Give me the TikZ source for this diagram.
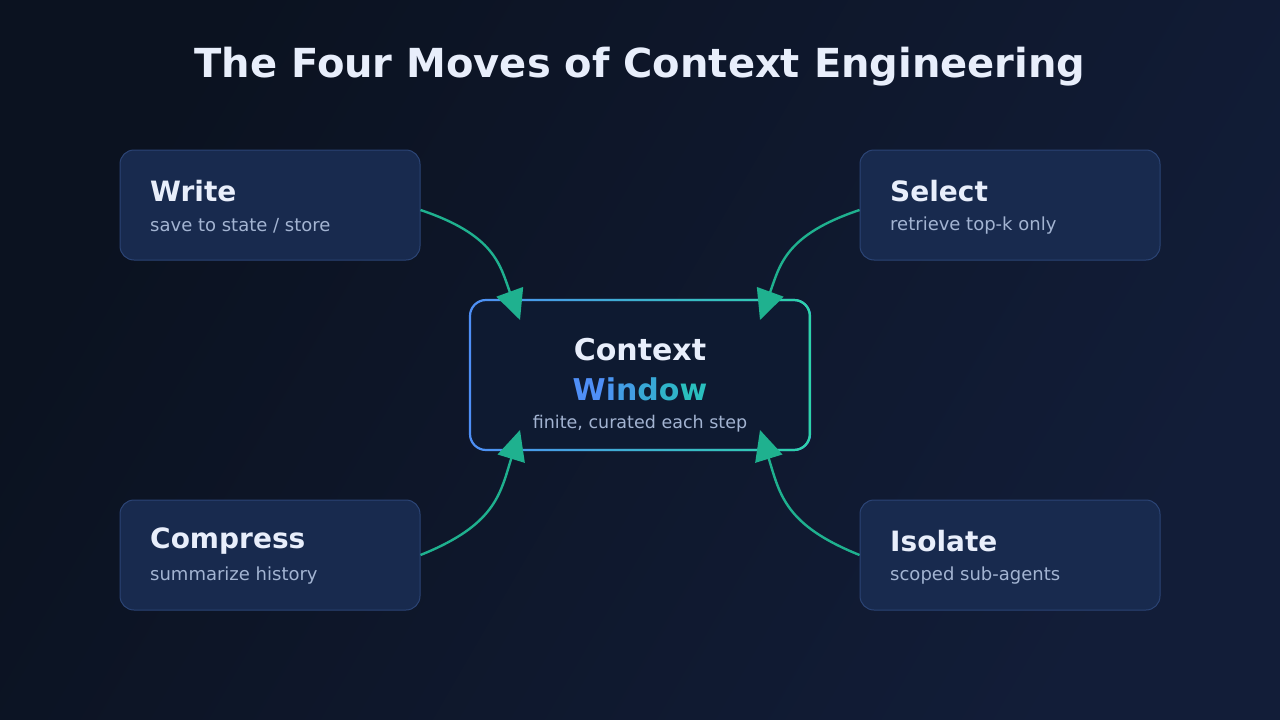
\documentclass[tikz,border=0pt]{standalone}
\usepackage{fontspec}
\setmainfont{DejaVu Sans}
\usetikzlibrary{arrows.meta,fadings}
\definecolor{bgA}{HTML}{0B1220}
\definecolor{bgB}{HTML}{121D38}
\definecolor{boxfill}{HTML}{182A4E}
\definecolor{boxline}{HTML}{2B4475}
\definecolor{cfill}{HTML}{0E1A31}
\definecolor{cblue}{HTML}{4F8FF7}
\definecolor{cteal}{HTML}{2DD4A8}
\definecolor{arr}{HTML}{1FB18F}
\definecolor{ttl}{HTML}{E8EEFB}
\definecolor{sub}{HTML}{A3B4D2}
\tikzset{
 mv/.style={draw=boxline,fill=boxfill,rounded corners=14pt,minimum width=300pt,minimum height=110pt,line width=1pt},
 mvt/.style={anchor=west,inner sep=0pt,text=ttl,font=\fontsize{28}{32}\selectfont\bfseries},
 mvs/.style={anchor=west,inner sep=0pt,text=sub,font=\fontsize{18}{21}\selectfont},
 con/.style={draw=arr,line width=2.4pt,-{Triangle[length=30pt,width=28pt]}}
}
\begin{document}
\begin{tikzpicture}[x=1pt,y=-1pt]
\useasboundingbox (0,0) rectangle (1280,720);
\shade[left color=bgA,right color=bgB,shading angle=60] (0,0) rectangle (1280,720);
\node[text=ttl,font=\fontsize{40}{46}\selectfont\bfseries] (title) at (640,67) {The Four Moves of Context Engineering};
\node[mv] (write) at (270,205) {};
\node[mv] (select) at (1010,205) {};
\node[mv] (compress) at (270,555) {};
\node[mv] (isolate) at (1010,555) {};
\node[mvt] (wt) at (150,191) {Write};
\node[mvs] (ws) at (150,226) {save to state / store};
\node[mvt] (st) at (890,191) {Select};
\node[mvs] (ss) at (890,226) {retrieve top-k only};
\node[mvt] (ct) at (150,541) {Compress};
\node[mvs] (cs) at (150,576) {summarize history};
\node[mvt] (it) at (890,541) {Isolate};
\node[mvs] (is) at (890,576) {scoped sub-agents};
\node[draw=cblue,fill=cfill,rounded corners=16pt,minimum width=340pt,minimum height=150pt,line width=2.2pt] (ctx) at (640,375) {};
\draw[cteal,line width=2.2pt,rounded corners=16pt,path fading=west] (470,300) rectangle (810,450);
\node[text=ttl,font=\fontsize{30}{34}\selectfont\bfseries] (c1) at (640,350) {Context};
\node[font=\fontsize{30}{34}\selectfont\bfseries] (c2) at (640,389) {\textcolor[HTML]{4F8FF7}{W}\textcolor[HTML]{4A95F0}{i}\textcolor[HTML]{429DE4}{n}\textcolor[HTML]{38A8D6}{d}\textcolor[HTML]{30B4C9}{o}\textcolor[HTML]{2ABFBE}{w}};
\node[text=sub,font=\fontsize{17.5}{20}\selectfont] (c3) at (640,424) {finite, curated each step};
\coordinate (e1) at (520,320);
\coordinate (e2) at (760,320);
\coordinate (e3) at (520,430);
\coordinate (e4) at (760,430);
\draw[con] ([yshift=-5pt]write.east) .. controls (495,235) and (500,265) .. (e1);
\draw[con] ([yshift=-5pt]select.west) .. controls (785,235) and (780,265) .. (e2);
\draw[con] (compress.east) .. controls (495,525) and (500,495) .. (e3);
\draw[con] (isolate.west) .. controls (785,525) and (780,495) .. (e4);
\end{tikzpicture}
\end{document}
